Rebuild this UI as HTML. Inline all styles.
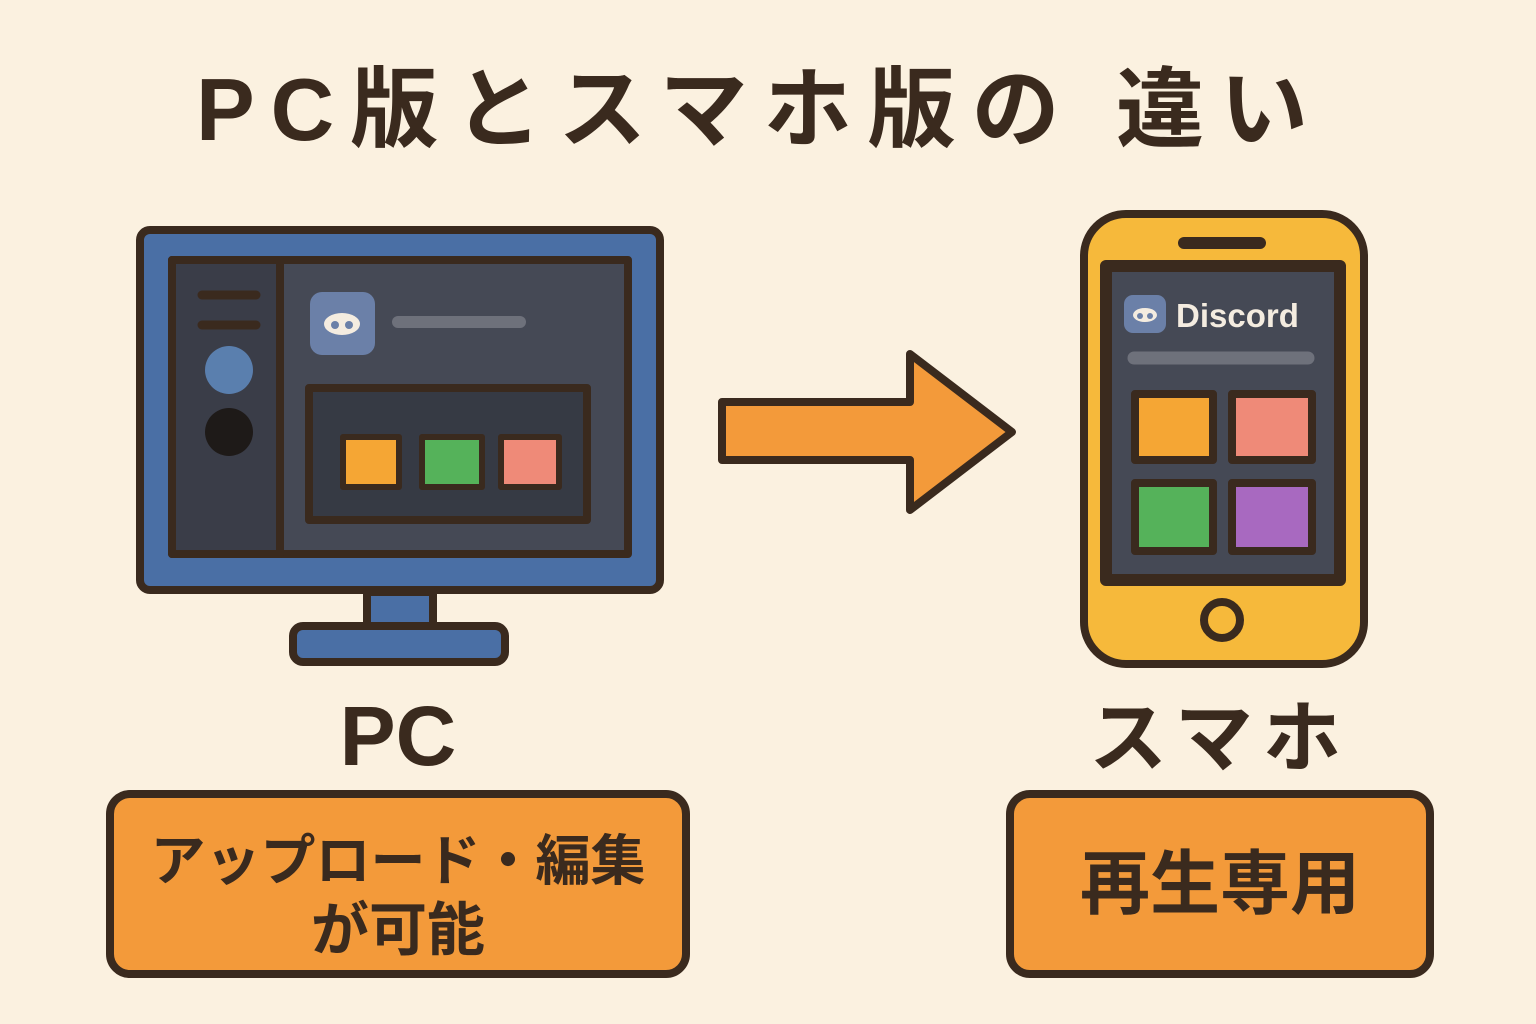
<!DOCTYPE html>
<html><head><meta charset="utf-8"><style>
html,body{margin:0;padding:0;background:#fbf1e0;}
svg{display:block}
text{font-family:"Liberation Sans","Noto Sans CJK JP",sans-serif;font-weight:bold;fill:#3a2a1e}
</style></head><body>
<svg width="1536" height="1024" viewBox="0 0 1536 1024" xmlns="http://www.w3.org/2000/svg">
<rect width="1536" height="1024" fill="#fbf1e0"/>
<text x="760" y="140" font-size="88" text-anchor="middle" letter-spacing="16">PC版とスマホ版の 違い</text>
<g stroke="#3a2a1e" stroke-width="8" stroke-linejoin="round">
<rect x="140" y="230" width="520" height="360" rx="10" fill="#4a6fa5"/>
<rect x="172" y="260" width="456" height="294" fill="#454955"/>
<rect x="172" y="260" width="108" height="294" fill="#3a3d48"/>
<rect x="367" y="592" width="66" height="36" fill="#4a6fa5"/>
<rect x="293" y="626" width="212" height="36" rx="10" fill="#4a6fa5"/>
<rect x="309" y="388" width="278" height="132" fill="#363a44"/>
<rect x="343" y="437" width="56" height="50" fill="#f5a634" stroke-width="6"/>
<rect x="422" y="437" width="60" height="50" fill="#55b25a" stroke-width="6"/>
<rect x="501" y="437" width="58" height="50" fill="#ef8a78" stroke-width="6"/>
<path d="M722 402 H910 V354 L1012 432 L910 510 V460 H722 Z" fill="#f39a3a"/>
<rect x="1084" y="214" width="280" height="450" rx="42" fill="#f6b93b"/>
<rect x="1106" y="266" width="234" height="314" fill="#454955" stroke-width="12"/>
<rect x="1135" y="394" width="78" height="66" fill="#f5a634"/>
<rect x="1232" y="394" width="80" height="66" fill="#ef8a78"/>
<rect x="1135" y="483" width="78" height="68" fill="#55b25a"/>
<rect x="1232" y="483" width="80" height="68" fill="#a869c0"/>
<circle cx="1222" cy="620" r="18" fill="#f6b93b"/>
<rect x="110" y="794" width="576" height="180" rx="20" fill="#f39a3a"/>
<rect x="1010" y="794" width="420" height="180" rx="20" fill="#f39a3a"/>
</g>
<g stroke-linecap="round">
<line x1="202" y1="295" x2="256" y2="295" stroke="#3a2a1e" stroke-width="9"/>
<line x1="202" y1="325" x2="256" y2="325" stroke="#3a2a1e" stroke-width="9"/>
<line x1="398" y1="322" x2="520" y2="322" stroke="#6e717b" stroke-width="12"/>
<line x1="1184" y1="243" x2="1260" y2="243" stroke="#3a2a1e" stroke-width="12"/>
<line x1="1134" y1="358" x2="1308" y2="358" stroke="#6e717b" stroke-width="13"/>
</g>
<circle cx="229" cy="370" r="24" fill="#5a7fae"/>
<circle cx="229" cy="432" r="24" fill="#1e1a18"/>
<rect x="310" y="292" width="65" height="63" rx="12" fill="#6b80a8"/>
<ellipse cx="342" cy="324" rx="18" ry="11" fill="#f4ece0"/>
<circle cx="335" cy="325" r="4" fill="#6b80a8"/><circle cx="349" cy="325" r="4" fill="#6b80a8"/>
<rect x="1124" y="295" width="42" height="38" rx="9" fill="#6b80a8"/>
<ellipse cx="1145" cy="315" rx="12" ry="7" fill="#f4ece0"/>
<circle cx="1140" cy="316" r="3" fill="#6b80a8"/><circle cx="1150" cy="316" r="3" fill="#6b80a8"/>
<text x="1176" y="327" font-size="33" style="fill:#f4ece0">Discord</text>
<text x="398" y="765" font-size="84" text-anchor="middle">PC</text>
<text x="1220" y="765" font-size="78" text-anchor="middle" letter-spacing="10">スマホ</text>
<text x="398" y="880" font-size="55" text-anchor="middle">アップロード・編集</text>
<text x="398" y="950" font-size="58" text-anchor="middle">が可能</text>
<text x="1220" y="908" font-size="70" text-anchor="middle">再生専用</text>
</svg>
</body></html>
